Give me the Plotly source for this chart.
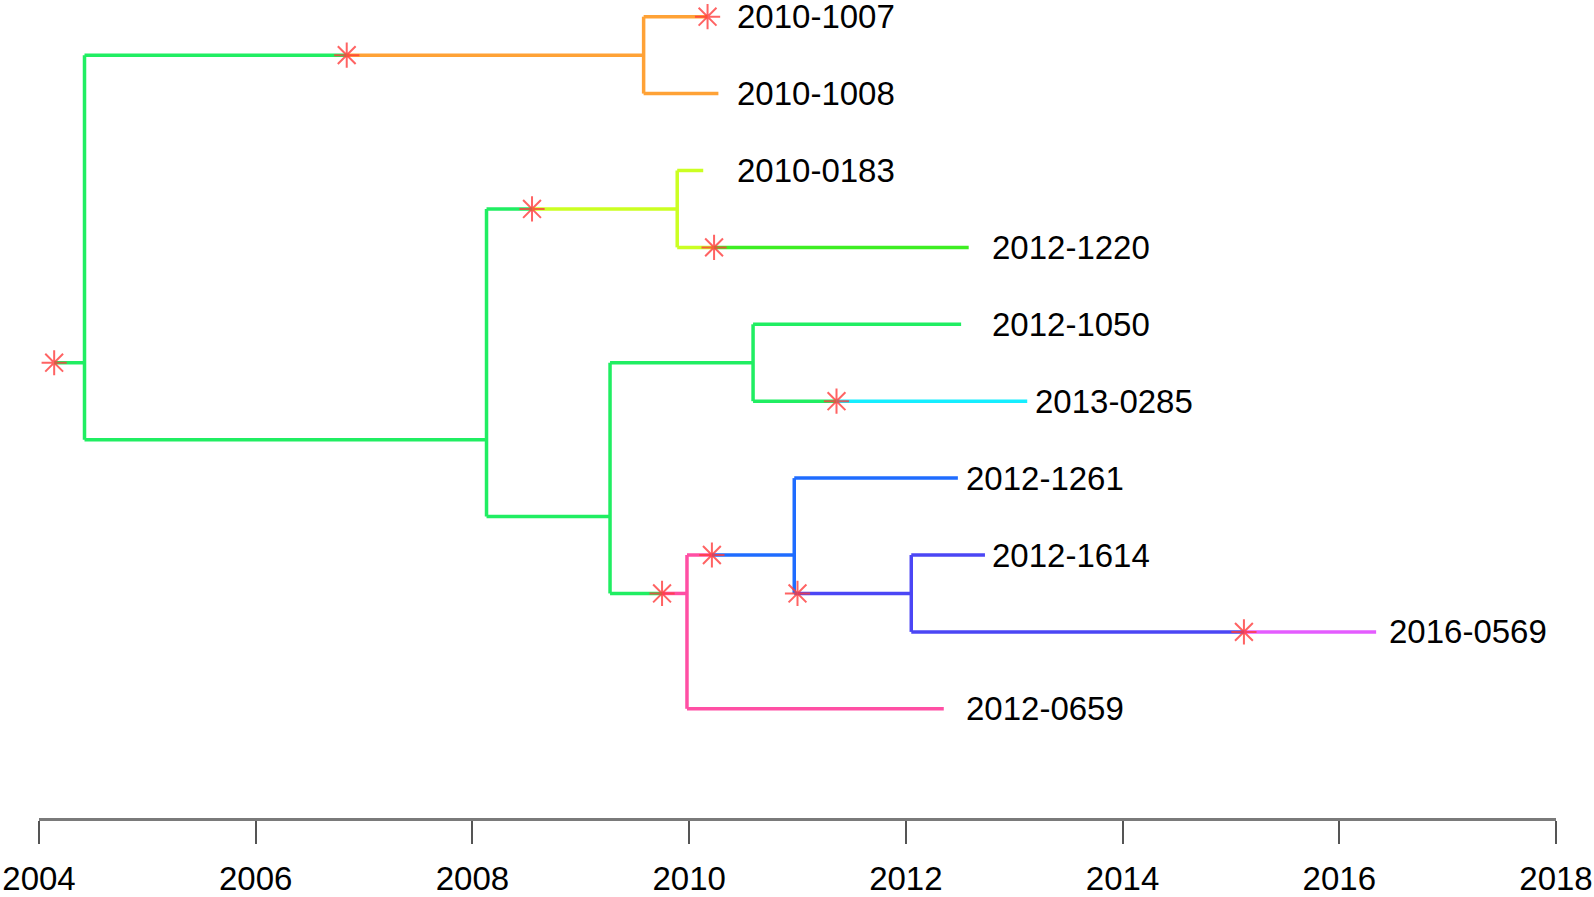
import plotly.graph_objects as go

# ---------------- data ----------------
tip_names = ["2010-1007", "2010-1008", "2010-0183", "2012-1220", "2012-1050",
             "2013-0285", "2012-1261", "2012-1614", "2016-0569", "2012-0659"]
tip_times = [2010.17, 2010.27, 2010.13, 2012.58, 2012.51,
             2013.12, 2012.48, 2012.73, 2016.34, 2012.35]
tip_colors = ["orange", "orange", "yellowgreen", "green2", "green",
              "cyan", "blue", "purple", "magenta", "pink"]
label_times = [2010.42, 2010.42, 2010.42, 2012.78, 2012.78,
               2013.17, 2012.54, 2012.78, 2016.44, 2012.54]

node_names = ["R", "A", "B", "C", "D", "E", "F", "G", "H"]
node_times = [2004.42, 2009.58, 2008.13, 2009.89, 2009.27, 2010.59, 2009.98, 2010.97, 2012.05]
node_colors = ["green", "orange", "green", "yellowgreen", "green", "green", "pink", "blue", "purple"]

# edges: parent -> child, with time of state change (star) or None
edge_parent = ["R", "R", "A", "A", "B", "B", "C", "C", "D", "D", "E", "E", "F", "F", "G", "G", "H", "H"]
edge_child = ["A", "B", "2010-1007", "2010-1008", "C", "D", "2010-0183", "2012-1220",
              "E", "F", "2012-1050", "2013-0285", "G", "2012-0659", "2012-1261", "H",
              "2012-1614", "2016-0569"]
edge_star = [2006.84, None, 2010.17, None, 2008.55, None, None, 2010.23,
             None, 2009.75, None, 2011.36, 2010.21, None, None, 2011.00,
             None, 2015.12]

root_stub_start = 2004.14
root_star = True

palette = {
    "green": "#20EE62",
    "orange": "#FFA236",
    "yellowgreen": "#CBFF22",
    "green2": "#3EEE22",
    "cyan": "#16EEFF",
    "blue": "#1F6CFF",
    "purple": "#4B46F5",
    "pink": "#FF4FA4",
    "magenta": "#E45CFF",
}

x_ticks = [2004, 2006, 2008, 2010, 2012, 2014, 2016, 2018]

# ---------------- layout computation ----------------
time = {}
color = {}
for n, t, c in zip(tip_names, tip_times, tip_colors):
    time[n] = t
    color[n] = c
for n, t, c in zip(node_names, node_times, node_colors):
    time[n] = t
    color[n] = c

children = {}
for p, ch in zip(edge_parent, edge_child):
    children.setdefault(p, []).append(ch)

ypos = {n: i + 1 for i, n in enumerate(tip_names)}


def tip_range(n):
    if n not in children:
        return ypos[n], ypos[n]
    lo, hi = 1e9, -1e9
    for ch in children[n]:
        a, b = tip_range(ch)
        lo, hi = min(lo, a), max(hi, b)
    return lo, hi


for n in node_names:
    lo, hi = tip_range(n)
    ypos[n] = (lo + hi) / 2

segs = {}


def add(col, x0, x1, y0, y1):
    d = segs.setdefault(col, ([], []))
    d[0].extend([x0, x1, None])
    d[1].extend([y0, y1, None])


star_x, star_y = [], []

add(color["R"], root_stub_start, time["R"], ypos["R"], ypos["R"])
if root_star:
    star_x.append(root_stub_start)
    star_y.append(ypos["R"])

for n in node_names:
    ys = [ypos[ch] for ch in children[n]]
    add(color[n], time[n], time[n], min(ys), max(ys))

for p, ch, s in zip(edge_parent, edge_child, edge_star):
    y = ypos[ch]
    if s is None:
        add(color[ch], time[p], time[ch], y, y)
    else:
        add(color[p], time[p], s, y, y)
        add(color[ch], s, time[ch], y, y)
        star_x.append(s)
        star_y.append(y)

fig = go.Figure()
for col, (xs, ys) in segs.items():
    fig.add_trace(go.Scatter(x=xs, y=ys, mode="lines",
                             line=dict(color=palette[col], width=3.5),
                             hoverinfo="skip", showlegend=False))

fig.add_trace(go.Scatter(x=star_x, y=star_y, mode="markers",
                         marker=dict(symbol="asterisk-open", size=21,
                                     color="rgba(255,60,60,0.8)",
                                     line=dict(color="rgba(255,60,60,0.8)", width=2)),
                         hoverinfo="skip", showlegend=False))

for n, lx in zip(tip_names, label_times):
    fig.add_annotation(x=lx, y=ypos[n], text=n, showarrow=False,
                       xanchor="left", yanchor="middle",
                       font=dict(family="Liberation Sans, Arial", size=33, color="black"))

fig.update_layout(
    width=1594, height=897,
    margin=dict(l=39, r=38, t=0, b=79, autoexpand=False),
    plot_bgcolor="white", paper_bgcolor="white",
    xaxis=dict(range=[2004, 2018], tickvals=x_ticks, ticktext=[str(v) for v in x_ticks],
               showgrid=False, zeroline=False, showline=True, linecolor="#7a7a7a", linewidth=3,
               ticks="outside", ticklen=23, tickwidth=1.5, tickcolor="#555555",
               ticklabelstandoff=6, ticklabeloverflow="allow", automargin=False,
               tickfont=dict(family="Liberation Sans, Arial", size=33, color="black")),
    yaxis=dict(range=[11.42, 0.783], visible=False, showgrid=False, zeroline=False,
               automargin=False),
)

fig.write_html("out.html", config={"displayModeBar": False},
               post_script="document.body.style.margin='0';document.body.style.overflow='hidden';")
